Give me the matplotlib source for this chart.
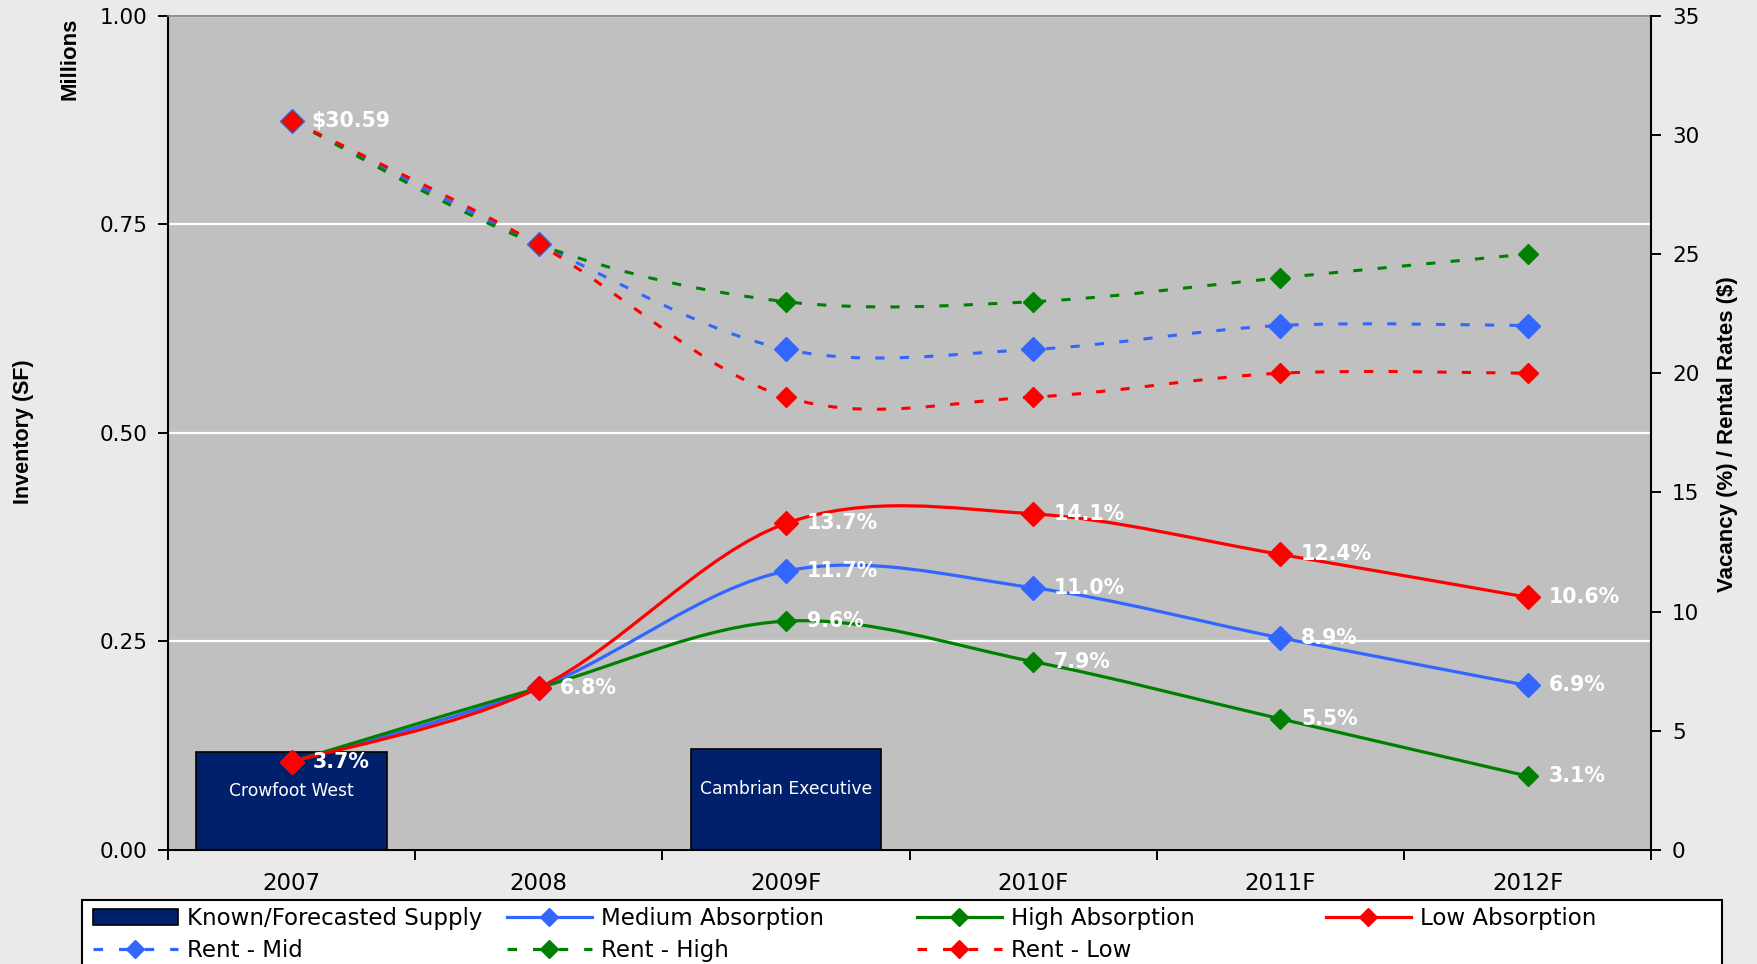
import matplotlib
matplotlib.use("Agg")
import matplotlib.pyplot as plt
import numpy as np
from matplotlib.path import Path
from matplotlib.patches import PathPatch, Rectangle, Patch
from matplotlib.lines import Line2D

years = ["2007", "2008", "2009F", "2010F", "2011F", "2012F"]

# new supply in millions of SF, with the building name shown on the bar
supply = [0.117, 0, 0.121, 0, 0, 0]
supply_names = ["Crowfoot West", "", "Cambrian Executive", "", "", ""]

# vacancy (%) by absorption scenario
vac_medium = [3.7, 6.8, 11.7, 11.0, 8.9, 6.9]
vac_high = [3.7, 6.8, 9.6, 7.9, 5.5, 3.1]
vac_low = [3.7, 6.8, 13.7, 14.1, 12.4, 10.6]

# rental rates ($)
rent_mid = [30.59, 25.4, 21, 21, 22, 22]
rent_high = [30.59, 25.4, 23, 23, 24, 25]
rent_low = [30.59, 25.4, 19, 19, 20, 20]

BLUE = "#3366FF"
GREEN = "#008000"
RED = "#FF0000"
NAVY = "#00206B"
DASH = (0, (3, 5))


def smooth_path(xs, ys):
    # Catmull-Rom style bezier through the points (like Excel's smoothed line)
    pts = np.column_stack([xs, ys]).astype(float)
    n = len(pts)
    verts = [pts[0]]
    codes = [Path.MOVETO]
    for i in range(n - 1):
        p0 = pts[max(i - 1, 0)]
        p1 = pts[i]
        p2 = pts[i + 1]
        p3 = pts[min(i + 2, n - 1)]
        verts += [p1 + (p2 - p0) / 6, p2 - (p3 - p1) / 6, p2]
        codes += [Path.CURVE4] * 3
    return Path(verts, codes)


fig = plt.figure(figsize=(17.58, 9.64), dpi=100, facecolor="#EAEAEA")
ax = fig.add_axes([0.0956, 0.1183, 0.8436, 0.8655])
ax.set_facecolor("#C0C0C0")
ax2 = ax.twinx()

x = np.arange(len(years))

# supply bars on the inventory axis
ax.bar(x, supply, width=0.77, color=NAVY, edgecolor="black", linewidth=1.2, zorder=2)
for i, name in enumerate(supply_names):
    if name:
        ax.text(x[i], supply[i] * 0.6, name, ha="center", va="center",
                color="white", fontsize=12.3, zorder=3)

ax.set_xlim(-0.5, len(years) - 0.5)
ax.set_ylim(0, 1.0)
ax.set_yticks([0, 0.25, 0.5, 0.75, 1.0])
ax.set_yticklabels(["0.00", "0.25", "0.50", "0.75", "1.00"])
ax.yaxis.grid(True, color="white", linewidth=1.6)
ax.set_axisbelow(True)
ax.set_xticks(x)
ax.set_xticklabels(years)
ax.set_xticks(np.arange(-0.5, len(years)), minor=True)
ax.tick_params(axis="x", which="major", length=0, pad=16, labelsize=16.5)
ax.tick_params(axis="x", which="minor", direction="out", length=7, width=1.4)
ax.tick_params(axis="y", direction="out", length=7, width=1.4, pad=8, labelsize=15.5)
for side in ["left", "bottom"]:
    ax.spines[side].set_linewidth(1.5)
    ax.spines[side].set_color("black")
ax.spines["top"].set_color("#808080")
ax.spines["top"].set_linewidth(1.2)
ax.spines["right"].set_visible(False)

# vacancy and rent lines on the right axis
ax2.set_ylim(0, 35)
ax2.set_yticks(range(0, 36, 5))
ax2.tick_params(axis="y", direction="out", length=7, width=1.4, pad=8, labelsize=15.5)
for side in ["left", "top", "bottom"]:
    ax2.spines[side].set_visible(False)
ax2.spines["right"].set_linewidth(1.5)
ax2.spines["right"].set_color("black")

rents = [(rent_mid, BLUE, 12.5), (rent_high, GREEN, 10.5), (rent_low, RED, 10.5)]
for vals, col, ms in rents:
    ax2.add_patch(PathPatch(smooth_path(x, vals), fill=False, edgecolor=col,
                            linewidth=2.2, linestyle=DASH, capstyle="butt", zorder=3))
    ax2.plot(x, vals, linestyle="none", marker="D", ms=ms, color=col, zorder=4)

vacancies = [(vac_medium, BLUE, 12, 2), (vac_high, GREEN, 10, 2), (vac_low, RED, 12, 0)]
for vals, col, ms, first in vacancies:
    ax2.add_patch(PathPatch(smooth_path(x, vals), fill=False, edgecolor=col,
                            linewidth=2.3, zorder=5))
    ax2.plot(x, vals, linestyle="none", marker="D", ms=ms, color=col, zorder=6)
    for i in range(first, len(vals)):
        ax2.annotate(f"{vals[i]:.1f}%", (x[i], vals[i]), xytext=(15, 0),
                     textcoords="offset points", ha="left", va="center",
                     color="white", fontweight="bold", fontsize=14.8, zorder=10)

ax2.annotate(f"${rent_low[0]:.2f}", (x[0], rent_low[0]), xytext=(14, 0),
             textcoords="offset points", ha="left", va="center",
             color="white", fontweight="bold", fontsize=14.8, zorder=10)

# axis titles
fig.text(0.0131, 0.552, "Inventory (SF)", rotation=90, ha="center", va="center",
         family="Liberation Sans", fontweight="bold", fontsize=15.5)
fig.text(0.0398, 0.982, "Millions", rotation=90, ha="center", va="top",
         family="Liberation Sans", fontweight="bold", fontsize=16)
fig.text(0.9824, 0.55, "Vacancy (%) / Rental Rates ($)", rotation=90, ha="center",
         va="center", family="Liberation Sans", fontweight="bold", fontsize=16)

# legend box along the bottom, four fixed-width columns
fig.patches.append(Rectangle((82 / 1758, -0.02), (1722 - 82) / 1758, 0.02 + 1 - 900 / 964,
                             transform=fig.transFigure, facecolor="white",
                             edgecolor="black", linewidth=1.5, zorder=0))

supply_h = Patch(facecolor=NAVY, edgecolor="black", linewidth=1.2)
columns = [
    ([supply_h, Line2D([], [], color=BLUE, lw=2.3, ls=DASH, marker="D", ms=9)],
     ["Known/Forecasted Supply", "Rent - Mid"]),
    ([Line2D([], [], color=BLUE, lw=2.3, marker="D", ms=9),
      Line2D([], [], color=GREEN, lw=2.3, ls=DASH, marker="D", ms=9)],
     ["Medium Absorption", "Rent - High"]),
    ([Line2D([], [], color=GREEN, lw=2.3, marker="D", ms=9),
      Line2D([], [], color=RED, lw=2.3, ls=DASH, marker="D", ms=9)],
     ["High Absorption", "Rent - Low"]),
    ([Line2D([], [], color=RED, lw=2.3, marker="D", ms=9)],
     ["Low Absorption"]),
]
col_x = [93, 507, 917, 1326]
for cx, (handles, labels) in zip(col_x, columns):
    fig.legend(handles, labels, loc="upper left", bbox_to_anchor=(cx / 1758, 1 - 907 / 964),
               frameon=False, borderpad=0, borderaxespad=0, handlelength=3.7,
               handletextpad=0.4, labelspacing=0.4, fontsize=16.5)

fig.savefig("out.png", dpi=100, facecolor=fig.get_facecolor())
